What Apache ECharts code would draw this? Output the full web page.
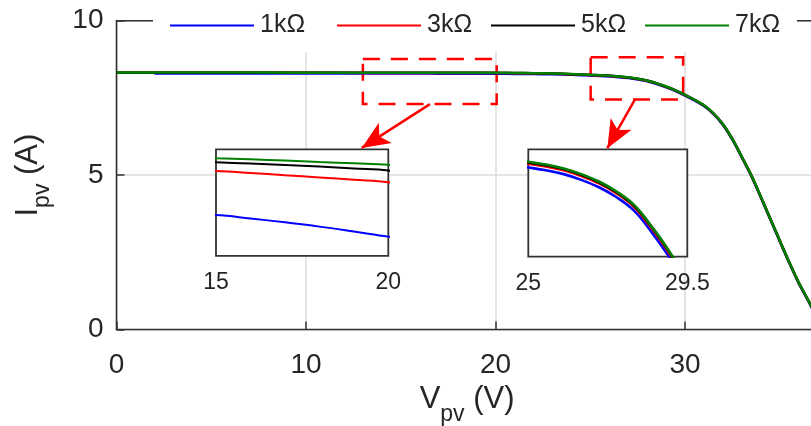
<!DOCTYPE html>
<html>
<head>
<meta charset="utf-8">
<script src="https://cdn.jsdelivr.net/npm/echarts@6/dist/echarts.min.js"></script>
<style>html,body{margin:0;padding:0;background:#fff}#c{width:811px;height:426px}</style>
</head>
<body>
<div id="c"></div>
<script>
// ---- data ----
const seriesNames = ['1kΩ', '3kΩ', '5kΩ', '7kΩ'];
const xTicks = [0, 10, 20, 30];
const yTicks = [0, 5, 10];
const inset1Ticks = [15, 20];
const inset2Ticks = [25, 29.5];
const V = [0, 2, 5, 10, 13, 15, 16, 17, 18, 19, 20, 21, 22, 23, 24, 25, 25.5, 26, 26.5, 27, 27.5, 28, 28.5, 29, 29.5, 30, 30.5, 31, 31.5, 32, 32.5, 33, 33.5, 34, 34.5, 35, 35.5, 36, 36.5, 37, 37.3];
const I_1k = [null, 8.293, 8.292, 8.291, 8.290, 8.2891, 8.2875, 8.2857, 8.2837, 8.2814, 8.2790, 8.277, 8.272, 8.262, 8.246, 8.224, 8.212, 8.196, 8.172, 8.141, 8.099, 8.042, 7.951, 7.846, 7.721, 7.576, 7.416, 7.236, 6.976, 6.626, 6.146, 5.566, 4.966, 4.276, 3.566, 2.856, 2.156, 1.496, 0.926, 0.336, 0];
const I_3k = [8.313, 8.313, 8.312, 8.311, 8.310, 8.3098, 8.3089, 8.3078, 8.3068, 8.3057, 8.3045, 8.301, 8.294, 8.282, 8.264, 8.240, 8.228, 8.212, 8.188, 8.157, 8.115, 8.058, 7.967, 7.862, 7.737, 7.592, 7.432, 7.252, 6.992, 6.642, 6.162, 5.582, 4.982, 4.292, 3.582, 2.872, 2.172, 1.512, 0.942, 0.352, 0];
const I_5k = [8.318, 8.318, 8.317, 8.316, 8.315, 8.3139, 8.3133, 8.3126, 8.3119, 8.3110, 8.3100, 8.306, 8.299, 8.287, 8.269, 8.245, 8.233, 8.217, 8.193, 8.162, 8.120, 8.063, 7.972, 7.867, 7.742, 7.597, 7.437, 7.257, 6.997, 6.647, 6.167, 5.587, 4.987, 4.297, 3.587, 2.877, 2.177, 1.517, 0.947, 0.357, 0];
const I_7k = [8.320, 8.320, 8.319, 8.318, 8.317, 8.3158, 8.3153, 8.3147, 8.3140, 8.3134, 8.3127, 8.309, 8.302, 8.290, 8.272, 8.248, 8.236, 8.220, 8.196, 8.165, 8.123, 8.066, 7.975, 7.870, 7.745, 7.600, 7.440, 7.260, 7.000, 6.650, 6.170, 5.590, 4.990, 4.300, 3.590, 2.880, 2.180, 1.520, 0.950, 0.360, 0];
// zoom regions (dashed boxes) and arrows, in data units
const zoomBox1 = [[13.0, 8.76], [20.06, 7.30]];
const zoomBox2 = [[25.02, 8.82], [29.9, 7.45]];
const arrow1 = [[16.54, 7.30], [12.94, 5.88]];
const arrow2 = [[27.36, 7.455], [25.9, 5.87]];

// ---- chart ----
const FONT = "'Liberation Sans', Arial, Helvetica, sans-serif";
const TXT = '#262626';
const colors = ['#0000ff', '#ff0000', '#000000', '#008000'];
const allI = [I_1k, I_3k, I_5k, I_7k];
function pairs(arr) {
  const out = [];
  for (let i = 0; i < V.length; i++) if (arr[i] != null) out.push([V[i], arr[i]]);
  return out;
}

const series = [];
allI.forEach((arr, k) => {
  series.push({
    name: seriesNames[k], type: 'line', xAxisIndex: 0, yAxisIndex: 0,
    data: pairs(arr), showSymbol: false, symbol: 'none', smooth: 0.3,
    lineStyle: { color: colors[k], width: 2.5 }, itemStyle: { color: colors[k] }, z: 3
  });
});
[1, 2].forEach(g => {
  allI.forEach((arr, k) => {
    series.push({
      name: seriesNames[k], type: 'line', xAxisIndex: g, yAxisIndex: g,
      data: pairs(arr), showSymbol: false, symbol: 'none', smooth: 0.4, clip: true,
      lineStyle: { color: colors[k], width: g === 1 ? 2 : 2.6 }, itemStyle: { color: colors[k] }, z: 5
    });
  });
});
// annotations on a helper series
series.push({
  type: 'line', xAxisIndex: 0, yAxisIndex: 0, data: [], silent: true, z: 4,
  markArea: {
    silent: true, label: { show: false },
    itemStyle: { color: 'rgba(0,0,0,0)', borderColor: '#ff0000', borderWidth: 2.5, borderType: [17, 11] },
    data: [
      [{ coord: zoomBox1[0] }, { coord: zoomBox1[1] }],
      [{ coord: zoomBox2[0] }, { coord: zoomBox2[1] }]
    ]
  },
  markLine: {
    silent: true, symbol: ['none', 'arrow'], symbolSize: [18, 28],
    label: { show: false },
    lineStyle: { color: '#ff0000', width: 2.5, type: 'solid' },
    data: [
      [{ coord: arrow1[0] }, { coord: arrow1[1] }],
      [{ coord: arrow2[0] }, { coord: arrow2[1] }]
    ]
  }
});

const legendLefts = [170, 337, 491, 645];
const legends = seriesNames.map((n, i) => ({
  data: [{ name: n, icon: 'rect' }], left: legendLefts[i], top: 12.5, orient: 'horizontal',
  itemWidth: 84, itemHeight: 2.2, padding: 0, selectedMode: false, z: 20,
  textStyle: { fontSize: 25, color: TXT, fontFamily: FONT, lineHeight: 26, padding: [0, 0, 0, 1] }
}));

const insetX = (grid, ticks, mn, mx) => ({
  type: 'value', gridIndex: grid, min: mn, max: mx,
  axisLine: { show: false }, axisTick: { show: false }, splitLine: { show: false },
  axisLabel: { customValues: ticks, fontSize: 23, color: TXT, fontFamily: FONT, margin: 15 }
});
const insetY = (grid, mn, mx) => ({
  type: 'value', gridIndex: grid, min: mn, max: mx, show: false,
  axisLine: { show: false }, axisTick: { show: false }, splitLine: { show: false }, axisLabel: { show: false }
});

const option = {
  animation: false,
  backgroundColor: '#fff',
  textStyle: { fontFamily: FONT },
  grid: [
    { left: 116.5, right: -6.7, top: 20.7, bottom: 96.5, outerBoundsMode: 'none', containLabel: false, show: true, borderColor: '#333', borderWidth: 1.6, backgroundColor: 'transparent', z: 1 },
    { left: 216, top: 149.3, width: 172.3, height: 106.5, outerBoundsMode: 'none', containLabel: false, show: true, borderColor: '#333', borderWidth: 1.8, backgroundColor: '#fff', z: 2 },
    { left: 528.3, top: 149.3, width: 159, height: 107.4, outerBoundsMode: 'none', containLabel: false, show: true, borderColor: '#333', borderWidth: 1.8, backgroundColor: '#fff', z: 2 }
  ],
  xAxis: [
    {
      type: 'value', gridIndex: 0, min: xTicks[0], max: 37, interval: xTicks[1] - xTicks[0],
      axisLine: { show: false },
      axisTick: { show: true, inside: true, length: 8, lineStyle: { color: '#333', width: 1.5 } },
      axisLabel: { fontSize: 28, color: TXT, fontFamily: FONT, margin: 22, showMaxLabel: false },
      splitLine: { show: true, lineStyle: { color: '#dcdcdc', width: 1.5 } },
      name: '{m|V}{s|pv}{m| (V)}', nameLocation: 'middle', nameGap: 52,
      nameTextStyle: { rich: {
        m: { fontSize: 31, lineHeight: 31, verticalAlign: 'top', color: TXT, fontFamily: FONT },
        s: { fontSize: 23, lineHeight: 61, color: TXT, fontFamily: FONT }
      } }
    },
    insetX(1, inset1Ticks, 15, 20),
    insetX(2, inset2Ticks, 25, 29.5)
  ],
  yAxis: [
    {
      type: 'value', gridIndex: 0, min: yTicks[0], max: yTicks[2], interval: yTicks[1] - yTicks[0],
      axisLine: { show: false },
      axisTick: { show: true, inside: true, length: 8, lineStyle: { color: '#333', width: 1.5 } },
      axisLabel: { fontSize: 28, color: TXT, fontFamily: FONT, margin: 13, padding: [6, 0, 0, 0] },
      splitLine: { show: true, lineStyle: { color: '#dcdcdc', width: 1.5 } },
      name: '{m|I}{s|pv}{m| (A)}', nameLocation: 'middle', nameGap: 43,
      nameTextStyle: { rich: {
        m: { fontSize: 31, lineHeight: 31, verticalAlign: 'top', color: TXT, fontFamily: FONT },
        s: { fontSize: 23, lineHeight: 61, color: TXT, fontFamily: FONT }
      } }
    },
    insetY(1, 8.27, 8.32),
    insetY(2, 7.85, 8.30)
  ],
  legend: legends,
  graphic: [
    { type: 'rect', shape: { x: 153, y: 0, width: 644, height: 52 }, style: { fill: '#fff' }, z: 10, silent: true }
  ],
  series: series
};
const chart = echarts.init(document.getElementById('c'), null, { renderer: 'canvas' });
chart.setOption(option);
</script>
</body>
</html>
